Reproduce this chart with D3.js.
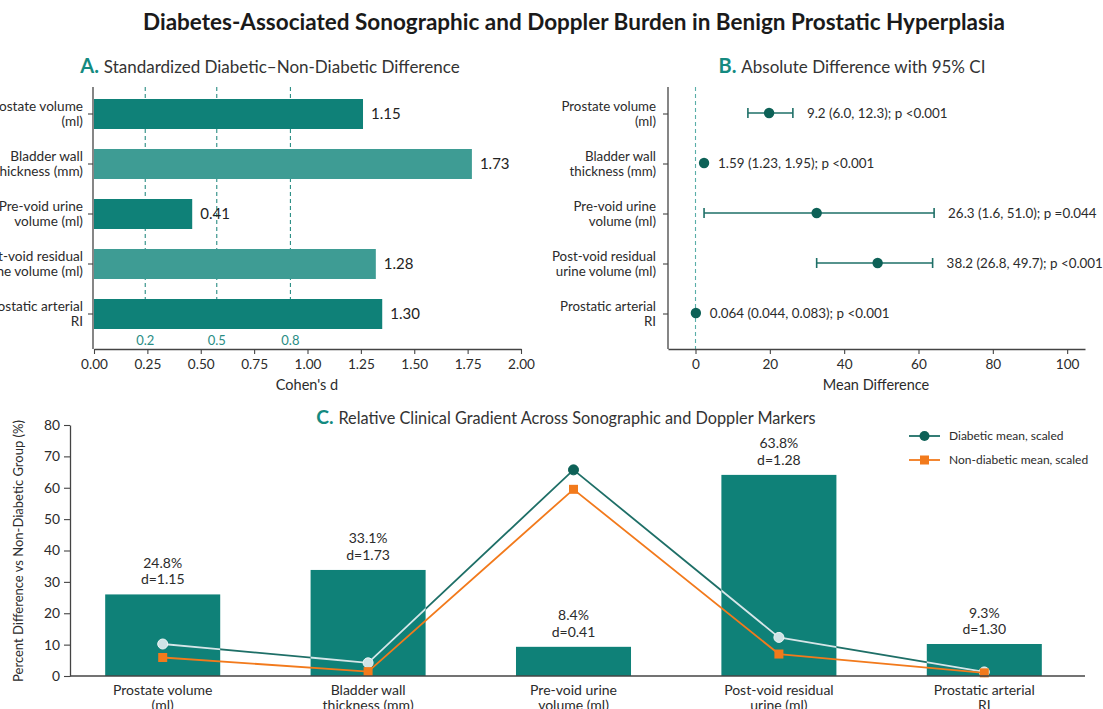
<!DOCTYPE html>
<html>
<head>
<meta charset="utf-8">
<script src="https://cdn.jsdelivr.net/npm/d3@7"></script>
<style>
  body { margin: 0; background: #fff; }
  svg { display: block; font-family: Lato, "Open Sans", sans-serif; }
</style>
</head>
<body>
<svg width="1103" height="709"></svg>
<script>
// ---- data ----
const markers = [
    "Prostate volume\n(ml)",
    "Bladder wall\nthickness (mm)",
    "Pre-void urine\nvolume (ml)",
    "Post-void residual\nurine volume (ml)",
    "Prostatic arterial\nRI"
];
const markersC = [
    "Prostate volume\n(ml)",
    "Bladder wall\nthickness (mm)",
    "Pre-void urine\nvolume (ml)",
    "Post-void residual\nurine (ml)",
    "Prostatic arterial\nRI"
];

// panel A: bar lengths as drawn, and the printed Cohen's d
const cohenBar = [1.26, 1.77, 0.46, 1.32, 1.35];
const cohenText = ["1.15", "1.73", "0.41", "1.28", "1.30"];
const cohenRefPos = [0.24, 0.575, 0.92];
const cohenRefText = ["0.2", "0.5", "0.8"];
const cohenTicks = [0, 0.25, 0.5, 0.75, 1, 1.25, 1.5, 1.75, 2];

// panel B: point and CI as drawn, printed estimate
const diffMean = [19.8, 2.3, 32.6, 49.0, 0.1];
const diffLo = [14.1, 2.3, 2.3, 32.6, 0.1];
const diffHi = [26.2, 2.3, 64.2, 63.8, 0.1];
const diffText = [
    "9.2 (6.0, 12.3); p <0.001",
    "1.59 (1.23, 1.95); p <0.001",
    "26.3 (1.6, 51.0); p =0.044",
    "38.2 (26.8, 49.7); p <0.001",
    "0.064 (0.044, 0.083); p <0.001"
];
const diffTicks = [0, 20, 40, 60, 80, 100];

// panel C
const pctBar = [26.0, 33.8, 9.3, 64.1, 10.2];
const pctText = ["24.8%", "33.1%", "8.4%", "63.8%", "9.3%"];
const diabeticScaled = [10.2, 4.2, 65.7, 12.3, 1.3];
const nonDiabeticScaled = [5.9, 1.4, 59.5, 7.0, 1.0];
const pctTicks = [0, 10, 20, 30, 40, 50, 60, 70, 80];

// ---- styles ----
const teal = "#0f8178";
const tealLight = "#3e9c94";
const tealDark = "#0d6157";
const tealLine = "#1e6f67";
const refTeal = "#2a8d84";
const orange = "#f27a1c";
const ink = "#2b2b2b";
const axisInk = "#444";

const svg = d3.select("svg");

svg.append("text")
    .attr("x", 574)
    .attr("y", 30)
    .attr("text-anchor", "middle")
    .attr("font-size", 22.5)
    .attr("font-weight", 700)
    .attr("fill", "#1a1a1a")
    .text("Diabetes-Associated Sonographic and Doppler Burden in Benign Prostatic Hyperplasia");

function panelTitle(x, y, letter, text, size) {
    const t = svg.append("text")
        .attr("x", x)
        .attr("y", y)
        .attr("text-anchor", "middle");
    t.append("tspan")
        .attr("font-size", size + 3)
        .attr("font-weight", 700)
        .attr("fill", "#148a80")
        .text(letter + " ");
    t.append("tspan")
        .attr("font-size", size)
        .attr("fill", "#333")
        .text(text);
}

// split "a\nb" tick labels into two tspans around the tick
function twoLines(sel, x, y0, gap) {
    sel.each(function () {
        const t = d3.select(this);
        const lines = t.text().split("\n");
        t.text(null).attr("dy", null).attr("y", null);
        lines.forEach((ln, i) => {
            t.append("tspan")
                .attr("x", x)
                .attr("y", y0 + i * gap)
                .text(ln);
        });
    });
}

function styleAxis(g, size) {
    g.selectAll("line").attr("stroke", axisInk).attr("stroke-width", 1.1);
    g.selectAll("path").attr("stroke", axisInk).attr("stroke-width", 1.3);
    g.selectAll("text")
        .attr("fill", ink)
        .attr("font-size", size)
        .attr("font-family", "Lato, sans-serif");
}

// ================= Panel A =================
panelTitle(270, 73, "A.", "Standardized Diabetic\u2013Non-Diabetic Difference", 17);

const xA = d3.scaleLinear().domain([0, 2]).range([94, 521]);
const yA = d3.scaleBand()
    .domain(markers)
    .range([89, 339])
    .paddingInner(0.4)
    .paddingOuter(0.2);

const gA = svg.append("g");

gA.selectAll(".ref")
    .data(cohenRefPos)
    .join("line")
    .attr("x1", d => xA(d))
    .attr("x2", d => xA(d))
    .attr("y1", 87)
    .attr("y2", 332)
    .attr("stroke", refTeal)
    .attr("stroke-width", 1.1)
    .attr("stroke-dasharray", "4,3");

gA.selectAll(".refLabel")
    .data(cohenRefPos)
    .join("text")
    .attr("x", d => xA(d))
    .attr("y", 344.5)
    .attr("text-anchor", "middle")
    .attr("font-size", 13)
    .attr("fill", refTeal)
    .text((d, i) => cohenRefText[i]);

gA.selectAll(".bar")
    .data(cohenBar)
    .join("rect")
    .attr("x", xA(0))
    .attr("y", (d, i) => yA(markers[i]))
    .attr("width", d => xA(d) - xA(0))
    .attr("height", yA.bandwidth())
    .attr("fill", (d, i) => i % 2 ? tealLight : teal);

gA.selectAll(".val")
    .data(cohenBar)
    .join("text")
    .attr("x", d => xA(d) + 8)
    .attr("y", (d, i) => yA(markers[i]) + yA.bandwidth() / 2)
    .attr("dy", "0.36em")
    .attr("font-size", 15)
    .attr("fill", "#222")
    .text((d, i) => cohenText[i]);

const axAy = gA.append("g")
    .attr("transform", "translate(93,0)")
    .call(d3.axisLeft(yA).tickSize(5).tickPadding(5).tickSizeOuter(0));
axAy.select(".domain").remove();
styleAxis(axAy, 13.6);
twoLines(axAy.selectAll("text"), -10, -3, 15);

gA.append("line")
    .attr("x1", 93).attr("x2", 93)
    .attr("y1", 87).attr("y2", 349)
    .attr("stroke", axisInk).attr("stroke-width", 1.3);

const axAx = gA.append("g")
    .attr("transform", "translate(0,349)")
    .call(d3.axisBottom(xA)
        .tickValues(cohenTicks)
        .tickFormat(d3.format(".2f"))
        .tickSize(5)
        .tickPadding(5)
        .tickSizeOuter(0));
styleAxis(axAx, 13.6);

gA.append("text")
    .attr("x", 307)
    .attr("y", 390)
    .attr("text-anchor", "middle")
    .attr("font-size", 14.5)
    .attr("fill", ink)
    .text("Cohen's d");

// ================= Panel B =================
panelTitle(852, 73, "B.", "Absolute Difference with 95% CI", 17);

const xB = d3.scaleLinear().domain([-7.4, 104.8]).range([668, 1085]);
const yB = d3.scaleBand()
    .domain(markers)
    .range([89, 339])
    .paddingInner(0.4)
    .paddingOuter(0.2);
const rowB = i => yB(markers[i]) + yB.bandwidth() / 2 - 1;

const gB = svg.append("g");

gB.append("line")
    .attr("x1", xB(0)).attr("x2", xB(0))
    .attr("y1", 87).attr("y2", 349)
    .attr("stroke", "#5aaea8")
    .attr("stroke-width", 1.1)
    .attr("stroke-dasharray", "4,3");

gB.selectAll(".ci")
    .data(diffMean)
    .join("line")
    .attr("x1", (d, i) => xB(diffLo[i]))
    .attr("x2", (d, i) => xB(diffHi[i]))
    .attr("y1", (d, i) => rowB(i))
    .attr("y2", (d, i) => rowB(i))
    .attr("stroke", tealLine)
    .attr("stroke-width", 1.6);

["lo", "hi"].forEach(side => {
    const arr = side === "lo" ? diffLo : diffHi;
    gB.selectAll(".cap" + side)
        .data(arr)
        .join("line")
        .attr("x1", d => xB(d))
        .attr("x2", d => xB(d))
        .attr("y1", (d, i) => rowB(i) - 5)
        .attr("y2", (d, i) => rowB(i) + 5)
        .attr("stroke", tealLine)
        .attr("stroke-width", 1.6);
});

gB.selectAll(".pt")
    .data(diffMean)
    .join("circle")
    .attr("cx", d => xB(d))
    .attr("cy", (d, i) => rowB(i))
    .attr("r", 5.2)
    .attr("fill", tealDark);

gB.selectAll(".lab")
    .data(diffMean)
    .join("text")
    .attr("x", (d, i) => xB(Math.max(d, diffHi[i])) + 14)
    .attr("y", (d, i) => rowB(i))
    .attr("dy", "0.36em")
    .attr("font-size", 13.4)
    .attr("fill", ink)
    .text((d, i) => diffText[i]);

const axBy = gB.append("g")
    .attr("transform", "translate(668,0)")
    .call(d3.axisLeft(yB).tickSize(5).tickPadding(7).tickSizeOuter(0));
axBy.select(".domain").remove();
styleAxis(axBy, 13.3);
twoLines(axBy.selectAll("text"), -12, -3, 15);

gB.append("line")
    .attr("x1", 668).attr("x2", 668)
    .attr("y1", 87).attr("y2", 349)
    .attr("stroke", axisInk).attr("stroke-width", 1.3);

const axBx = gB.append("g")
    .attr("transform", "translate(0,349)")
    .call(d3.axisBottom(xB)
        .tickValues(diffTicks)
        .tickSize(5)
        .tickPadding(5)
        .tickSizeOuter(0));
styleAxis(axBx, 13.6);

gB.append("text")
    .attr("x", 876)
    .attr("y", 390)
    .attr("text-anchor", "middle")
    .attr("font-size", 14.5)
    .attr("fill", ink)
    .text("Mean Difference");

// ================= Panel C =================
panelTitle(566, 423.5, "C.", "Relative Clinical Gradient Across Sonographic and Doppler Markers", 16.3);

const xC = d3.scaleBand()
    .domain(markersC)
    .range([60, 1087])
    .paddingInner(0.44)
    .paddingOuter(0.22);
const yC = d3.scaleLinear().domain([0, 80]).range([676, 425]);
const midC = i => xC(markersC[i]) + xC.bandwidth() / 2;

const gC = svg.append("g");

gC.selectAll(".bar")
    .data(pctBar)
    .join("rect")
    .attr("x", (d, i) => xC(markersC[i]))
    .attr("y", d => yC(d))
    .attr("width", xC.bandwidth())
    .attr("height", d => yC(0) - yC(d))
    .attr("fill", teal);

// clip used to lighten the diabetic line where it crosses the bars
svg.append("defs")
    .append("clipPath")
    .attr("id", "barClip")
    .selectAll("rect")
    .data(pctBar)
    .join("rect")
    .attr("x", (d, i) => xC(markersC[i]))
    .attr("y", d => yC(d))
    .attr("width", xC.bandwidth())
    .attr("height", d => yC(0) - yC(d));

gC.selectAll(".ann1")
    .data(pctBar)
    .join("text")
    .attr("x", (d, i) => midC(i))
    .attr("y", d => yC(d) - 31.5)
    .attr("dy", "0.36em")
    .attr("text-anchor", "middle")
    .attr("font-size", 14)
    .attr("fill", ink)
    .text((d, i) => pctText[i]);

gC.selectAll(".ann2")
    .data(pctBar)
    .join("text")
    .attr("x", (d, i) => midC(i))
    .attr("y", d => yC(d) - 15)
    .attr("dy", "0.36em")
    .attr("text-anchor", "middle")
    .attr("font-size", 14)
    .attr("fill", ink)
    .text((d, i) => "d=" + cohenText[i]);

const lineC = d3.line()
    .x((d, i) => midC(i))
    .y(d => yC(d));

gC.append("path")
    .datum(diabeticScaled)
    .attr("d", lineC)
    .attr("fill", "none")
    .attr("stroke", tealLine)
    .attr("stroke-width", 1.8);

gC.append("path")
    .datum(diabeticScaled)
    .attr("d", lineC)
    .attr("fill", "none")
    .attr("stroke", "#d3e7e9")
    .attr("stroke-width", 1.8)
    .attr("clip-path", "url(#barClip)");

gC.selectAll(".dia")
    .data(diabeticScaled)
    .join("circle")
    .attr("cx", (d, i) => midC(i))
    .attr("cy", d => yC(d))
    .attr("r", 5)
    .attr("fill", (d, i) => d < pctBar[i] ? "#cfe3e6" : tealDark)
    .attr("stroke", (d, i) => d < pctBar[i] ? "#eef6f6" : tealDark)
    .attr("stroke-width", 1);

gC.append("path")
    .datum(nonDiabeticScaled)
    .attr("d", lineC)
    .attr("fill", "none")
    .attr("stroke", orange)
    .attr("stroke-width", 1.8);

gC.selectAll(".non")
    .data(nonDiabeticScaled)
    .join("rect")
    .attr("x", (d, i) => midC(i) - 4.5)
    .attr("y", d => yC(d) - 4.5)
    .attr("width", 9)
    .attr("height", 9)
    .attr("fill", orange);

const axCy = gC.append("g")
    .attr("transform", "translate(70,0)")
    .call(d3.axisLeft(yC).tickValues(pctTicks).tickSize(6).tickPadding(4).tickSizeOuter(0));
styleAxis(axCy, 13.8);

const axCx = gC.append("g")
    .attr("transform", "translate(0,676)")
    .call(d3.axisBottom(xC).tickSize(0).tickPadding(0));
axCx.select(".domain").remove();
styleAxis(axCx, 14);
twoLines(axCx.selectAll("text"), 0, 18.5, 15);

gC.append("line")
    .attr("x1", 70).attr("x2", 1085)
    .attr("y1", 676).attr("y2", 676)
    .attr("stroke", axisInk).attr("stroke-width", 1.3);

gC.append("text")
    .attr("transform", "translate(23,551) rotate(-90)")
    .attr("text-anchor", "middle")
    .attr("font-size", 13)
    .attr("fill", ink)
    .text("Percent Difference vs Non-Diabetic Group (%)");

// legend
const legend = [
    { label: "Diabetic mean, scaled", color: tealLine, shape: "circle" },
    { label: "Non-diabetic mean, scaled", color: orange, shape: "square" }
];
const lg = gC.append("g").attr("transform", "translate(909,436)");
legend.forEach((d, i) => {
    const row = lg.append("g").attr("transform", `translate(0,${i * 24})`);
    row.append("line")
        .attr("x1", 0).attr("x2", 31)
        .attr("stroke", d.color).attr("stroke-width", 1.8);
    if (d.shape === "circle") {
        row.append("circle").attr("cx", 15.5).attr("r", 5).attr("fill", tealDark);
    } else {
        row.append("rect").attr("x", 11).attr("y", -4.5).attr("width", 9).attr("height", 9).attr("fill", orange);
    }
    row.append("text")
        .attr("x", 40)
        .attr("dy", "0.35em")
        .attr("font-size", 12)
        .attr("fill", ink)
        .text(d.label);
});
</script>
</body>
</html>
